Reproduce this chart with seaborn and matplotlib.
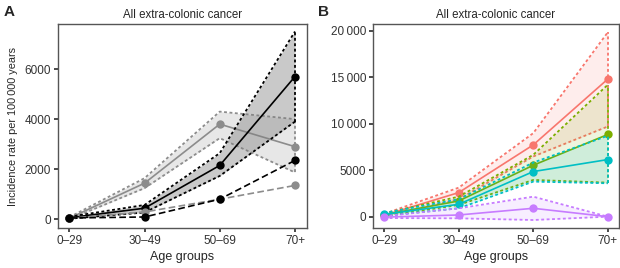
import numpy as np
import pandas as pd
import matplotlib
matplotlib.use("Agg")
import matplotlib.pyplot as plt
import seaborn as sns

# ---------------- data ----------------
age_groups = ["0\u201329", "30\u201349", "50\u201369", "70+"]

# Panel A
a_gray_est = [40, 1440, 3800, 2900]
a_gray_lo = [0, 1240, 3240, 1870]
a_gray_hi = [80, 1640, 4300, 4000]
a_black_est = [60, 440, 2150, 5700]
a_black_lo = [20, 270, 1730, 3900]
a_black_hi = [100, 570, 2640, 7500]
a_gray_dash = [40, 290, 800, 1350]
a_black_dash = [50, 90, 800, 2350]

# Panel B
b_groups = ["red", "green", "teal", "purple"]
b_est = {
    "red": [150, 2590, 7720, 14800],
    "green": [200, 1690, 5530, 8840],
    "teal": [250, 1330, 4850, 6140],
    "purple": [-50, 180, 900, 0],
}
b_lo = {
    "red": [0, 1870, 6470, 9700],
    "green": [50, 1260, 3950, 3660],
    "teal": [80, 900, 3770, 3590],
    "purple": [-150, -180, -360, 0],
}
b_hi = {
    "red": [300, 3120, 8980, 19830],
    "green": [350, 2150, 6650, 14190],
    "teal": [400, 1870, 5820, 8700],
    "purple": [50, 900, 2150, 0],
}
b_colors = {"red": "#F8766D", "green": "#7CAE00", "teal": "#00BFC4", "purple": "#C77CFF"}

a_yticks = [0, 2000, 4000, 6000]
a_yticklabels = ["0", "2000", "4000", "6000"]
b_yticks = [0, 5000, 10000, 15000, 20000]
b_yticklabels = ["0", "5000", "10\u2009000", "15\u2009000", "20\u2009000"]

title = "All extra-colonic cancer"
xlabel = "Age groups"
ylabel = "Incidence rate per 100\u2009000 years"

# ---------------- style ----------------
sns.set_theme(style="ticks")
plt.rcParams["font.family"] = ["Liberation Sans", "DejaVu Sans"]
plt.rcParams["axes.edgecolor"] = "#555555"
plt.rcParams["axes.linewidth"] = 1.0
plt.rcParams["xtick.color"] = "#333333"
plt.rcParams["ytick.color"] = "#333333"
plt.rcParams["xtick.major.size"] = 3
plt.rcParams["ytick.major.size"] = 3

fig = plt.figure(figsize=(6.2, 2.68), dpi=100)
axA = fig.add_axes([58 / 620, 1 - 228 / 268, (307 - 58) / 620, (228 - 24) / 268])
axB = fig.add_axes([373 / 620, 1 - 228 / 268, (619 - 373) / 620, (228 - 24) / 268])

dot = (0, (1.6, 1.4))
dash = (0, (4, 2))
ms = 6


def band(ax, est, lo, hi, line_col, fill_col, alpha, bound_col, z):
    df = pd.DataFrame({"age": age_groups, "est": est, "lo": lo, "hi": hi})
    ax.fill_between(df["age"], df["lo"], df["hi"], color=fill_col, alpha=alpha,
                    linewidth=0, zorder=z)
    sns.lineplot(data=df, x="age", y="lo", ax=ax, color=bound_col, lw=1.3,
                 linestyle=dot, sort=False, zorder=z + 1)
    sns.lineplot(data=df, x="age", y="hi", ax=ax, color=bound_col, lw=1.3,
                 linestyle=dot, sort=False, zorder=z + 1)
    for i in [0, len(age_groups) - 1]:
        ax.plot([df["age"][i], df["age"][i]], [df["lo"][i], df["hi"][i]],
                color=bound_col, lw=1.3, linestyle=dot, zorder=z + 1)
    sns.lineplot(data=df, x="age", y="est", ax=ax, color=line_col, lw=1.2,
                 marker="o", markersize=ms, markeredgewidth=0, sort=False, zorder=z + 3)


def plain(ax, vals, col, z):
    df = pd.DataFrame({"age": age_groups, "est": vals})
    sns.lineplot(data=df, x="age", y="est", ax=ax, color=col, lw=1.2,
                 linestyle=dash, marker="o", markersize=ms, markeredgewidth=0,
                 sort=False, zorder=z)


# ---------------- panel A ----------------
band(axA, a_gray_est, a_gray_lo, a_gray_hi, "#8c8c8c", "#d0d0d0", 0.5, "#8c8c8c", 1)
band(axA, a_black_est, a_black_lo, a_black_hi, "#000000", "#808080", 0.42, "#000000", 5)
plain(axA, a_gray_dash, "#8c8c8c", 9)
plain(axA, a_black_dash, "#000000", 10)

axA.set_ylim(-350, 7800)
axA.set_xlim(-0.15, 3.16)
axA.set_yticks(a_yticks)
axA.set_yticklabels(a_yticklabels)
axA.set_xlabel(xlabel, fontsize=9, labelpad=3)
axA.set_ylabel(ylabel, fontsize=7.8, labelpad=5)
axA.set_title(title, fontsize=8.3, pad=4)
axA.tick_params(labelsize=8.5, pad=2)

# ---------------- panel B ----------------
for k, g in enumerate(b_groups):
    c = b_colors[g]
    band(axB, b_est[g], b_lo[g], b_hi[g], c, c, 0.13, c, 1 + 4 * k)

axB.set_ylim(-1220, 20720)
axB.set_xlim(-0.15, 3.15)
axB.set_yticks(b_yticks)
axB.set_yticklabels(b_yticklabels)
axB.set_xlabel(xlabel, fontsize=9, labelpad=3)
axB.set_ylabel("")
axB.set_title(title, fontsize=8.3, pad=4)
axB.tick_params(labelsize=8.5, pad=2)

for ax in (axA, axB):
    for s in ax.spines.values():
        s.set_visible(True)
    ax.set_facecolor("white")

fig.text(4 / 620, 1 - 16 / 268, "A", fontsize=11, fontweight="bold")
fig.text(318 / 620, 1 - 16 / 268, "B", fontsize=11, fontweight="bold")

fig.savefig("out.png", dpi=100)
